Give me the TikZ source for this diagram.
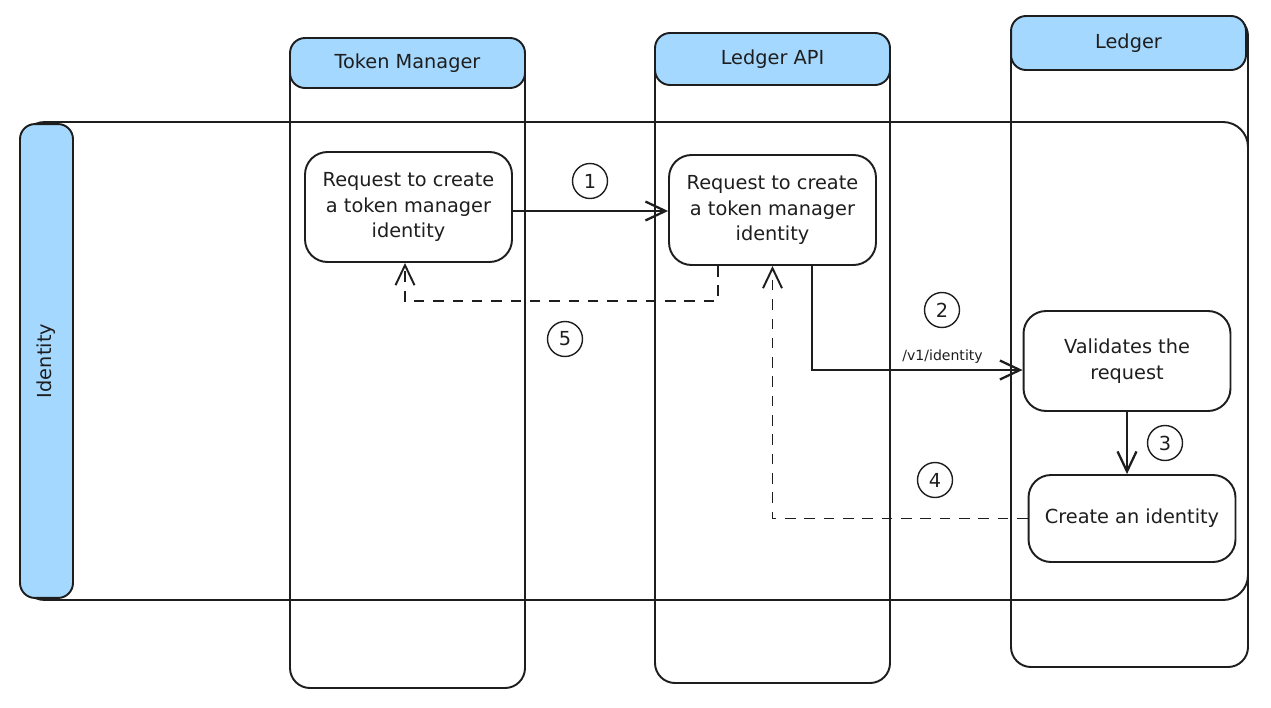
\documentclass[tikz,border=0pt]{standalone}
\usepackage{fontspec}
\setmainfont{DejaVu Sans}
\usetikzlibrary{positioning, arrows.meta, calc}
\definecolor{headblue}{HTML}{A5D8FF}
\definecolor{ink}{HTML}{1E1E1E}

\begin{document}
\begin{tikzpicture}[x=0.02cm, y=-0.02cm, ink, line width=1.1pt,
    font=\fontsize{11}{14.5}\selectfont,
    head/.style={draw, fill=headblue, rounded corners=0.3cm, inner sep=0pt},
    proc/.style={draw, rounded corners=0.45cm, align=center, minimum width=4.14cm, inner sep=2pt},
    num/.style={circle, draw, line width=0.8pt, minimum size=0.7cm, inner sep=0pt},
    arr/.style={-{Straight Barb[length=0.4cm, width=0.38cm]}, line width=1.3pt},
    darr/.style={arr, dashed, dash pattern=on 6pt off 5pt, line width=1.1pt}]
    \useasboundingbox (0,0) rectangle (1271,707);

    % Lanes
    \draw[rounded corners=0.4cm] (290,38) rectangle (525,688);
    \draw[rounded corners=0.4cm] (655,33) rectangle (890,683);
    \draw[rounded corners=0.4cm] (1011,16) rectangle (1248,667);
    \draw[rounded corners=0.5cm] (20,122) rectangle (1248,600);

    % Lane heads
    \node[head, minimum width=4.7cm, minimum height=1cm] (tmhead) at (407.5,63) {Token Manager};
    \node[head, minimum width=4.7cm, minimum height=1.04cm] (apihead) at (772.5,59) {Ledger API};
    \node[head, minimum width=4.7cm, minimum height=1.08cm] (ledhead) at (1128.5,43) {Ledger};
    \node[head, minimum width=1.06cm, minimum height=9.48cm] (idhead) at (46.5,361) {};
    \node[rotate=90] (idlabel) at (idhead.center) {Identity};

    % Nodes
    \node[proc, minimum height=2.2cm] (tmreq) at (408.5,207) {Request to create\\a token manager\\identity};
    \node[proc, minimum height=2.2cm] (apireq) at (772.5,210) {Request to create\\a token manager\\identity};
    \node[proc, minimum height=2cm] (valid) at (1127,361) {Validates the\\request};
    \node[proc, minimum height=1.74cm] (create) at (1132,518.5) {Create an identity};

    % Step numbers
    \node[num] (n1) at (590,181) {1};
    \node[num] (n2) at (942,310) {2};
    \node[num] (n3) at (1165,443) {3};
    \node[num] (n4) at (935,480) {4};
    \node[num] (n5) at (565,339) {5};

    % Edges
    \draw[arr] ([yshift=-0.08cm]tmreq.east) -- ([yshift=-0.08cm]tmreq.east -| apireq.west);
    \draw[arr] ([xshift=0.79cm]apireq.south) |- node[pos=0.81, above, font=\fontsize{8}{9}\selectfont] {/v1/identity} ([yshift=-0.18cm]valid.west);
    \draw[arr] (valid.south) -- (valid.south |- create.north);
    \draw[darr] (create.west) -| (apireq.south);
    \draw[darr] ([xshift=-1.09cm]apireq.south) -- ++(0,35) -| ([xshift=-0.07cm]tmreq.south);
\end{tikzpicture}
\end{document}
